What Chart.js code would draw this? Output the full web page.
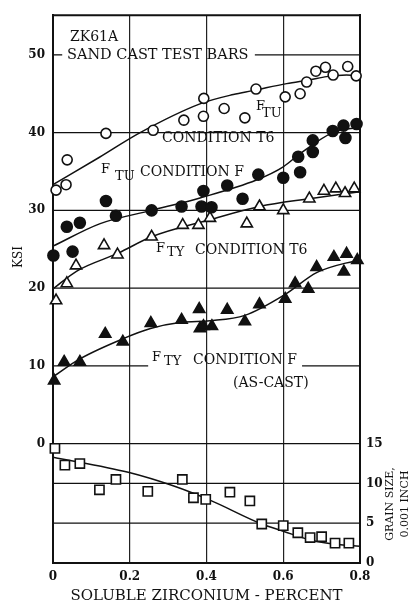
<!DOCTYPE html>
<html>
<head>
<meta charset="utf-8">
<script src="https://cdn.jsdelivr.net/npm/chart.js@4.4.1/dist/chart.umd.min.js"></script>
<style>
  html, body { margin: 0; padding: 0; background: #fff; }
</style>
</head>
<body>
<canvas id="zrChart" width="413" height="605"></canvas>
<script>
// ZK61A sand cast test bars: strength and grain size vs soluble zirconium

var xTicks = [0, 0.2, 0.4, 0.6, 0.8];
var xTickLabels = ['0', '0.2', '0.4', '0.6', '0.8'];
var ksiTicks = [0, 10, 20, 30, 40, 50];
var grainTicks = [0, 5, 10, 15];

// F_TU, condition T6 (open circles)
var ftuT6X = [0.008, 0.034, 0.037, 0.138, 0.261, 0.341, 0.392, 0.393, 0.446, 0.500, 0.529, 0.605, 0.644, 0.661, 0.685, 0.710, 0.730, 0.768, 0.790];
var ftuT6Y = [32.6, 33.3, 36.5, 39.9, 40.3, 41.6, 42.1, 44.4, 43.1, 41.9, 45.6, 44.6, 45.0, 46.5, 47.9, 48.4, 47.4, 48.5, 47.3];
var ftuT6FitX = [0, 0.12, 0.227, 0.383, 0.47, 0.521, 0.609, 0.67, 0.713, 0.765, 0.8];
var ftuT6FitY = [33.3, 36.8, 40.0, 43.7, 44.9, 45.4, 46.3, 46.8, 47.2, 47.4, 47.3];

// F_TU, condition F (filled circles)
var ftuFX = [0.001, 0.036, 0.051, 0.070, 0.138, 0.164, 0.257, 0.335, 0.387, 0.392, 0.413, 0.454, 0.494, 0.535, 0.600, 0.639, 0.644, 0.677, 0.677, 0.729, 0.757, 0.762, 0.791];
var ftuFY = [24.2, 27.9, 24.7, 28.4, 31.2, 29.3, 30.0, 30.5, 30.5, 32.5, 30.4, 33.2, 31.5, 34.6, 34.2, 36.9, 34.9, 37.5, 39.0, 40.2, 40.9, 39.3, 41.1];
var ftuFFitX = [0, 0.123, 0.257, 0.383, 0.53, 0.6, 0.644, 0.729, 0.8];
var ftuFFitY = [25.4, 28.3, 30.0, 31.6, 33.9, 35.6, 37.3, 40.0, 40.7];

// F_TY, condition T6 (open triangles)
var ftyT6X = [0.008, 0.036, 0.060, 0.133, 0.168, 0.257, 0.338, 0.379, 0.409, 0.505, 0.538, 0.600, 0.668, 0.706, 0.737, 0.761, 0.785];
var ftyT6Y = [18.4, 20.6, 22.9, 25.5, 24.3, 26.6, 28.1, 28.1, 29.0, 28.3, 30.5, 30.0, 31.5, 32.5, 32.8, 32.2, 32.8];
var ftyT6FitX = [0, 0.062, 0.17, 0.257, 0.409, 0.538, 0.668, 0.8];
var ftyT6FitY = [19.9, 22.2, 24.5, 26.6, 28.8, 30.5, 31.5, 32.4];

// F_TY, condition F as-cast (filled triangles)
var ftyFX = [0.003, 0.029, 0.070, 0.136, 0.182, 0.255, 0.335, 0.381, 0.383, 0.392, 0.414, 0.454, 0.500, 0.538, 0.605, 0.631, 0.665, 0.687, 0.732, 0.758, 0.765, 0.793];
var ftyFY = [8.1, 10.5, 10.5, 14.1, 13.1, 15.5, 15.9, 17.3, 14.8, 15.1, 15.1, 17.2, 15.7, 17.9, 18.6, 20.6, 19.9, 22.7, 24.0, 22.1, 24.4, 23.6];
var ftyFFitX = [0, 0.07, 0.183, 0.254, 0.335, 0.409, 0.5, 0.605, 0.687, 0.8];
var ftyFFitY = [8.6, 10.9, 13.5, 14.8, 15.6, 15.8, 16.5, 19.2, 22.0, 23.7];

// grain size, 0.001 inch (open squares, right axis)
var grainX = [0.005, 0.031, 0.070, 0.121, 0.164, 0.247, 0.337, 0.366, 0.398, 0.461, 0.513, 0.544, 0.600, 0.638, 0.670, 0.700, 0.735, 0.771];
var grainY = [14.4, 12.3, 12.5, 9.2, 10.5, 9.0, 10.5, 8.2, 8.0, 8.9, 7.8, 4.9, 4.7, 3.8, 3.2, 3.3, 2.5, 2.5];
var grainFitX = [0, 0.196, 0.313, 0.409, 0.544, 0.6, 0.67, 0.73, 0.8];
var grainFitY = [13.3, 11.4, 9.7, 7.9, 4.9, 4.0, 2.9, 2.4, 2.1];

function pts(xs, ys) {
    return xs.map(function (x, i) { return { x: x, y: ys[i] }; });
}

var ink = '#111';

function markers(xs, ys, style, radius, fill, axis) {
    return {
        data: pts(xs, ys),
        yAxisID: axis || 'y',
        pointStyle: style,
        pointRadius: radius,
        pointBackgroundColor: fill,
        pointBorderColor: ink,
        pointBorderWidth: 1.6,
        showLine: false,
        clip: false,
        order: 0
    };
}

function fitLine(xs, ys, axis) {
    return {
        data: pts(xs, ys),
        yAxisID: axis || 'y',
        showLine: true,
        pointRadius: 0,
        borderColor: ink,
        borderWidth: 1.5,
        cubicInterpolationMode: 'monotone',
        fill: false,
        order: 1
    };
}

var serif = 'DejaVu Serif';

// grid lines, broken where the lettering sits, plus all the lettering
var paperDecor = {
    id: 'paperDecor',
    beforeDatasetsDraw: function (chart) {
        var c = chart.ctx, a = chart.chartArea;
        var sx = chart.scales.x, sy = chart.scales.y, sg = chart.scales.y2;
        function hline(y, x0, x1) {
            c.beginPath(); c.moveTo(x0, y); c.lineTo(x1, y); c.stroke();
        }
        c.save();
        c.strokeStyle = ink;
        c.lineWidth = 1.3;
        [0, 20, 30, 40].forEach(function (v) { hline(sy.getPixelForValue(v), a.left, a.right); });
        hline(sy.getPixelForValue(50), a.left, sx.getPixelForValue(0.024));
        hline(sy.getPixelForValue(50), sx.getPixelForValue(0.526), a.right);
        hline(sy.getPixelForValue(10), a.left, sx.getPixelForValue(0.248));
        hline(sy.getPixelForValue(10), sx.getPixelForValue(0.649), a.right);
        [5, 10].forEach(function (g) { hline(sg.getPixelForValue(g), a.left, a.right); });
        c.lineWidth = 2;
        hline(a.top, a.left - 1, a.right + 1);
        c.restore();
    },
    afterDraw: function (chart) {
        var c = chart.ctx;
        function txt(s, x, y, size) {
            c.font = size + 'px "' + serif + '"';
            c.fillText(s, x, y);
        }
        c.save();
        c.fillStyle = ink;
        c.textAlign = 'left';
        c.textBaseline = 'middle';
        txt('ZK61A', 70, 37, 14);
        txt('SAND CAST TEST BARS', 67, 55, 14.5);
        txt('F', 256, 107, 13);
        txt('TU', 262, 114, 13);
        txt('CONDITION T6', 162, 138, 14);
        txt('F', 101, 170, 13);
        txt('TU', 115, 177, 13);
        txt('CONDITION F', 140, 172, 14);
        txt('F', 156, 249, 13);
        txt('TY', 167, 253, 13);
        txt('CONDITION T6', 195, 250, 14);
        txt('F', 152, 358, 13);
        txt('TY', 164, 362, 13);
        txt('CONDITION F', 193, 360, 14);
        txt('(AS-CAST)', 233, 383, 14);

        c.textAlign = 'center';
        c.font = '12px "' + serif + '"';
        c.translate(19, 257);
        c.rotate(-Math.PI / 2);
        c.fillText('KSI', 0, 0);
        c.restore();

        c.save();
        c.fillStyle = ink;
        c.textAlign = 'center';
        c.textBaseline = 'middle';
        c.font = '11px "' + serif + '"';
        c.translate(390, 504);
        c.rotate(-Math.PI / 2);
        c.fillText('GRAIN SIZE,', 0, 0);
        c.fillText('0.001 INCH', 0, 15);
        c.restore();
    }
};

var tickFont = { family: serif, size: 12, weight: 'bold' };

new Chart(document.getElementById('zrChart'), {
    type: 'scatter',
    data: {
        datasets: [
            markers(ftuT6X, ftuT6Y, 'circle', 5, '#fff'),
            fitLine(ftuT6FitX, ftuT6FitY),
            markers(ftuFX, ftuFY, 'circle', 5.5, ink),
            fitLine(ftuFFitX, ftuFFitY),
            markers(ftyT6X, ftyT6Y, 'triangle', 6.5, '#fff'),
            fitLine(ftyT6FitX, ftyT6FitY),
            markers(ftyFX, ftyFY, 'triangle', 6.5, ink),
            fitLine(ftyFFitX, ftyFFitY),
            markers(grainX, grainY, 'rect', 6.5, '#fff', 'y2'),
            fitLine(grainFitX, grainFitY, 'y2')
        ]
    },
    options: {
        responsive: false,
        animation: false,
        layout: { padding: { top: 10, left: 0, right: 0, bottom: 0 } },
        plugins: { legend: { display: false }, tooltip: { enabled: false } },
        scales: {
            x: {
                type: 'linear', min: 0, max: 0.8,
                afterBuildTicks: function (s) { s.ticks = xTicks.map(function (v) { return { value: v }; }); },
                afterFit: function (s) { s.height = 42; },
                ticks: {
                    callback: function (v) { return xTickLabels[xTicks.indexOf(v)]; },
                    font: tickFont, color: ink, padding: 7, maxRotation: 0, autoSkip: false
                },
                grid: { color: '#222', lineWidth: 1.2, drawTicks: false },
                border: { display: true, color: ink, width: 2 },
                title: {
                    display: true, text: 'SOLUBLE ZIRCONIUM - PERCENT', color: ink,
                    font: { family: serif, size: 15 }, padding: { top: 0, bottom: 0 }
                }
            },
            y: {
                type: 'linear', position: 'left', min: -15.35, max: 55.1,
                afterBuildTicks: function (s) { s.ticks = ksiTicks.map(function (v) { return { value: v }; }); },
                afterFit: function (s) { s.width = 53; },
                ticks: { font: tickFont, color: ink, padding: 8 },
                grid: { display: false, drawTicks: false },
                border: { display: true, color: ink, width: 2 }
            },
            y2: {
                type: 'linear', position: 'right', min: 0, max: 68.84,
                afterBuildTicks: function (s) { s.ticks = grainTicks.map(function (v) { return { value: v }; }); },
                afterFit: function (s) { s.width = 53; },
                ticks: { font: tickFont, color: ink, padding: 6 },
                grid: { display: false, drawTicks: false },
                border: { display: true, color: ink, width: 2 }
            }
        }
    },
    plugins: [paperDecor]
});
</script>
</body>
</html>
